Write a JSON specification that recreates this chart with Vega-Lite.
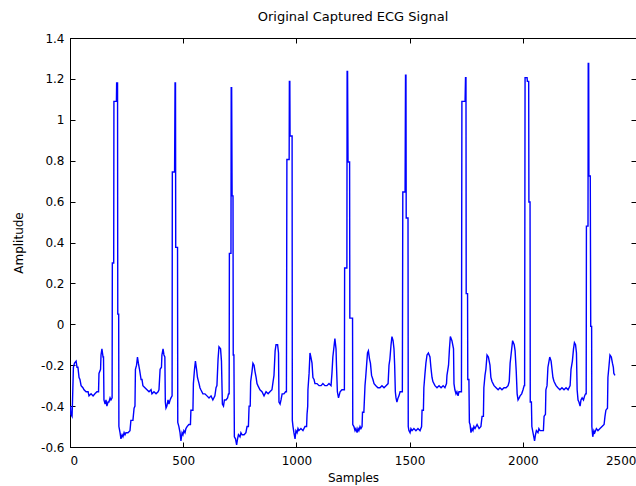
{
 "$schema": "https://vega.github.io/schema/vega-lite/v6.json",
 "width": 566,
 "height": 409,
 "autosize": {"type": "none"},
 "padding": {"left": 70, "top": 38, "right": 0, "bottom": 39},
 "background": "white",
 "title": {"text": "Original Captured ECG Signal", "font": "DejaVu Sans", "fontSize": 13, "fontWeight": "normal", "color": "black", "offset": 8},
 "config": {
  "view": {"stroke": "black", "strokeWidth": 1},
  "axis": {"domainColor": "black", "tickColor": "black", "labelColor": "black", "titleColor": "black", "labelFont": "DejaVu Sans", "titleFont": "DejaVu Sans", "labelFontSize": 12, "titleFontSize": 12, "titleFontWeight": "normal", "grid": false, "tickSize": -5}
 },
 "datasets": {"ecg": [
{"sample":2,"amplitude":-0.40},{"sample":4,"amplitude":-0.44},{"sample":9,"amplitude":-0.45},{"sample":11,"amplitude":-0.38},{"sample":15,"amplitude":-0.21},{"sample":20,"amplitude":-0.19},{"sample":27,"amplitude":-0.18},{"sample":31,"amplitude":-0.21},{"sample":35,"amplitude":-0.21},{"sample":40,"amplitude":-0.26},{"sample":44,"amplitude":-0.27},{"sample":49,"amplitude":-0.30},{"sample":57,"amplitude":-0.31},{"sample":62,"amplitude":-0.32},{"sample":71,"amplitude":-0.33},{"sample":80,"amplitude":-0.33},{"sample":84,"amplitude":-0.35},{"sample":93,"amplitude":-0.34},{"sample":102,"amplitude":-0.35},{"sample":110,"amplitude":-0.34},{"sample":119,"amplitude":-0.33},{"sample":126,"amplitude":-0.33},{"sample":128,"amplitude":-0.24},{"sample":135,"amplitude":-0.22},{"sample":137,"amplitude":-0.15},{"sample":141,"amplitude":-0.12},{"sample":146,"amplitude":-0.16},{"sample":148,"amplitude":-0.16},{"sample":150,"amplitude":-0.37},{"sample":155,"amplitude":-0.39},{"sample":159,"amplitude":-0.37},{"sample":163,"amplitude":-0.40},{"sample":168,"amplitude":-0.38},{"sample":172,"amplitude":-0.38},{"sample":177,"amplitude":-0.36},{"sample":181,"amplitude":-0.37},{"sample":186,"amplitude":-0.36},{"sample":187,"amplitude":0.30},{"sample":193,"amplitude":0.30},{"sample":194,"amplitude":1.09},{"sample":205,"amplitude":1.09},{"sample":206,"amplitude":1.18},{"sample":210,"amplitude":1.18},{"sample":211,"amplitude":0.05},{"sample":215,"amplitude":0.05},{"sample":216,"amplitude":-0.50},{"sample":221,"amplitude":-0.53},{"sample":225,"amplitude":-0.56},{"sample":230,"amplitude":-0.54},{"sample":234,"amplitude":-0.55},{"sample":239,"amplitude":-0.53},{"sample":243,"amplitude":-0.54},{"sample":247,"amplitude":-0.53},{"sample":256,"amplitude":-0.53},{"sample":265,"amplitude":-0.52},{"sample":269,"amplitude":-0.47},{"sample":278,"amplitude":-0.47},{"sample":283,"amplitude":-0.41},{"sample":287,"amplitude":-0.40},{"sample":289,"amplitude":-0.22},{"sample":294,"amplitude":-0.20},{"sample":298,"amplitude":-0.16},{"sample":302,"amplitude":-0.19},{"sample":307,"amplitude":-0.22},{"sample":314,"amplitude":-0.27},{"sample":318,"amplitude":-0.27},{"sample":322,"amplitude":-0.30},{"sample":331,"amplitude":-0.31},{"sample":340,"amplitude":-0.32},{"sample":349,"amplitude":-0.33},{"sample":358,"amplitude":-0.32},{"sample":362,"amplitude":-0.34},{"sample":371,"amplitude":-0.33},{"sample":380,"amplitude":-0.34},{"sample":389,"amplitude":-0.33},{"sample":393,"amplitude":-0.32},{"sample":398,"amplitude":-0.22},{"sample":404,"amplitude":-0.21},{"sample":406,"amplitude":-0.15},{"sample":411,"amplitude":-0.12},{"sample":415,"amplitude":-0.15},{"sample":419,"amplitude":-0.16},{"sample":421,"amplitude":-0.38},{"sample":424,"amplitude":-0.41},{"sample":428,"amplitude":-0.40},{"sample":433,"amplitude":-0.37},{"sample":437,"amplitude":-0.39},{"sample":442,"amplitude":-0.37},{"sample":446,"amplitude":-0.36},{"sample":451,"amplitude":-0.35},{"sample":452,"amplitude":0.745},{"sample":462,"amplitude":0.745},{"sample":464,"amplitude":1.18},{"sample":466,"amplitude":1.18},{"sample":467,"amplitude":0.376},{"sample":475,"amplitude":0.376},{"sample":476,"amplitude":-0.48},{"sample":481,"amplitude":-0.50},{"sample":486,"amplitude":-0.53},{"sample":490,"amplitude":-0.57},{"sample":495,"amplitude":-0.53},{"sample":499,"amplitude":-0.54},{"sample":503,"amplitude":-0.52},{"sample":508,"amplitude":-0.53},{"sample":512,"amplitude":-0.51},{"sample":517,"amplitude":-0.50},{"sample":525,"amplitude":-0.49},{"sample":532,"amplitude":-0.49},{"sample":534,"amplitude":-0.42},{"sample":543,"amplitude":-0.42},{"sample":545,"amplitude":-0.29},{"sample":550,"amplitude":-0.22},{"sample":554,"amplitude":-0.18},{"sample":559,"amplitude":-0.22},{"sample":563,"amplitude":-0.26},{"sample":570,"amplitude":-0.29},{"sample":574,"amplitude":-0.31},{"sample":578,"amplitude":-0.32},{"sample":587,"amplitude":-0.34},{"sample":596,"amplitude":-0.34},{"sample":605,"amplitude":-0.35},{"sample":614,"amplitude":-0.36},{"sample":623,"amplitude":-0.35},{"sample":631,"amplitude":-0.37},{"sample":640,"amplitude":-0.35},{"sample":645,"amplitude":-0.31},{"sample":649,"amplitude":-0.30},{"sample":654,"amplitude":-0.17},{"sample":658,"amplitude":-0.11},{"sample":665,"amplitude":-0.12},{"sample":669,"amplitude":-0.18},{"sample":673,"amplitude":-0.39},{"sample":678,"amplitude":-0.40},{"sample":682,"amplitude":-0.37},{"sample":689,"amplitude":-0.37},{"sample":696,"amplitude":-0.36},{"sample":700,"amplitude":-0.34},{"sample":703,"amplitude":-0.34},{"sample":704,"amplitude":0.347},{"sample":711,"amplitude":0.347},{"sample":712,"amplitude":1.157},{"sample":714,"amplitude":1.157},{"sample":716,"amplitude":0.628},{"sample":720,"amplitude":0.628},{"sample":721,"amplitude":-0.15},{"sample":724,"amplitude":-0.15},{"sample":726,"amplitude":-0.55},{"sample":731,"amplitude":-0.56},{"sample":736,"amplitude":-0.59},{"sample":740,"amplitude":-0.56},{"sample":744,"amplitude":-0.54},{"sample":751,"amplitude":-0.55},{"sample":755,"amplitude":-0.53},{"sample":760,"amplitude":-0.54},{"sample":769,"amplitude":-0.54},{"sample":777,"amplitude":-0.53},{"sample":782,"amplitude":-0.50},{"sample":788,"amplitude":-0.50},{"sample":791,"amplitude":-0.40},{"sample":796,"amplitude":-0.40},{"sample":798,"amplitude":-0.28},{"sample":804,"amplitude":-0.23},{"sample":808,"amplitude":-0.19},{"sample":813,"amplitude":-0.20},{"sample":817,"amplitude":-0.23},{"sample":822,"amplitude":-0.26},{"sample":826,"amplitude":-0.29},{"sample":830,"amplitude":-0.30},{"sample":839,"amplitude":-0.32},{"sample":848,"amplitude":-0.33},{"sample":857,"amplitude":-0.35},{"sample":866,"amplitude":-0.33},{"sample":875,"amplitude":-0.34},{"sample":883,"amplitude":-0.33},{"sample":892,"amplitude":-0.32},{"sample":897,"amplitude":-0.28},{"sample":901,"amplitude":-0.25},{"sample":906,"amplitude":-0.13},{"sample":910,"amplitude":-0.10},{"sample":917,"amplitude":-0.10},{"sample":921,"amplitude":-0.14},{"sample":923,"amplitude":-0.38},{"sample":928,"amplitude":-0.39},{"sample":932,"amplitude":-0.37},{"sample":937,"amplitude":-0.34},{"sample":945,"amplitude":-0.34},{"sample":952,"amplitude":-0.33},{"sample":956,"amplitude":-0.33},{"sample":958,"amplitude":0.806},{"sample":968,"amplitude":0.806},{"sample":969,"amplitude":1.188},{"sample":971,"amplitude":1.188},{"sample":972,"amplitude":0.921},{"sample":981,"amplitude":0.921},{"sample":982,"amplitude":-0.47},{"sample":985,"amplitude":-0.50},{"sample":989,"amplitude":-0.53},{"sample":994,"amplitude":-0.56},{"sample":998,"amplitude":-0.52},{"sample":1003,"amplitude":-0.53},{"sample":1007,"amplitude":-0.51},{"sample":1011,"amplitude":-0.52},{"sample":1020,"amplitude":-0.51},{"sample":1029,"amplitude":-0.52},{"sample":1038,"amplitude":-0.50},{"sample":1045,"amplitude":-0.50},{"sample":1047,"amplitude":-0.44},{"sample":1050,"amplitude":-0.40},{"sample":1051,"amplitude":-0.32},{"sample":1056,"amplitude":-0.24},{"sample":1060,"amplitude":-0.14},{"sample":1064,"amplitude":-0.16},{"sample":1069,"amplitude":-0.19},{"sample":1073,"amplitude":-0.26},{"sample":1078,"amplitude":-0.27},{"sample":1082,"amplitude":-0.29},{"sample":1091,"amplitude":-0.29},{"sample":1100,"amplitude":-0.30},{"sample":1109,"amplitude":-0.30},{"sample":1117,"amplitude":-0.29},{"sample":1126,"amplitude":-0.30},{"sample":1135,"amplitude":-0.30},{"sample":1144,"amplitude":-0.29},{"sample":1153,"amplitude":-0.30},{"sample":1157,"amplitude":-0.24},{"sample":1161,"amplitude":-0.16},{"sample":1166,"amplitude":-0.11},{"sample":1170,"amplitude":-0.07},{"sample":1175,"amplitude":-0.12},{"sample":1177,"amplitude":-0.20},{"sample":1181,"amplitude":-0.33},{"sample":1186,"amplitude":-0.36},{"sample":1193,"amplitude":-0.33},{"sample":1201,"amplitude":-0.32},{"sample":1210,"amplitude":-0.32},{"sample":1212,"amplitude":-0.32},{"sample":1213,"amplitude":0.275},{"sample":1223,"amplitude":0.275},{"sample":1224,"amplitude":1.237},{"sample":1226,"amplitude":1.237},{"sample":1228,"amplitude":0.794},{"sample":1235,"amplitude":0.794},{"sample":1236,"amplitude":0.03},{"sample":1248,"amplitude":0.03},{"sample":1249,"amplitude":-0.49},{"sample":1254,"amplitude":-0.50},{"sample":1259,"amplitude":-0.52},{"sample":1263,"amplitude":-0.51},{"sample":1268,"amplitude":-0.53},{"sample":1272,"amplitude":-0.51},{"sample":1276,"amplitude":-0.52},{"sample":1281,"amplitude":-0.50},{"sample":1285,"amplitude":-0.51},{"sample":1290,"amplitude":-0.50},{"sample":1292,"amplitude":-0.43},{"sample":1298,"amplitude":-0.43},{"sample":1303,"amplitude":-0.30},{"sample":1306,"amplitude":-0.26},{"sample":1310,"amplitude":-0.20},{"sample":1314,"amplitude":-0.14},{"sample":1318,"amplitude":-0.13},{"sample":1323,"amplitude":-0.17},{"sample":1327,"amplitude":-0.19},{"sample":1332,"amplitude":-0.25},{"sample":1338,"amplitude":-0.27},{"sample":1343,"amplitude":-0.29},{"sample":1351,"amplitude":-0.30},{"sample":1360,"amplitude":-0.31},{"sample":1369,"amplitude":-0.31},{"sample":1378,"amplitude":-0.30},{"sample":1387,"amplitude":-0.31},{"sample":1396,"amplitude":-0.30},{"sample":1405,"amplitude":-0.29},{"sample":1409,"amplitude":-0.20},{"sample":1413,"amplitude":-0.17},{"sample":1418,"amplitude":-0.10},{"sample":1422,"amplitude":-0.06},{"sample":1427,"amplitude":-0.08},{"sample":1431,"amplitude":-0.12},{"sample":1434,"amplitude":-0.20},{"sample":1437,"amplitude":-0.33},{"sample":1440,"amplitude":-0.36},{"sample":1444,"amplitude":-0.38},{"sample":1449,"amplitude":-0.36},{"sample":1453,"amplitude":-0.35},{"sample":1458,"amplitude":-0.33},{"sample":1464,"amplitude":-0.33},{"sample":1468,"amplitude":-0.33},{"sample":1470,"amplitude":0.647},{"sample":1480,"amplitude":0.647},{"sample":1482,"amplitude":1.218},{"sample":1484,"amplitude":1.218},{"sample":1485,"amplitude":0.52},{"sample":1493,"amplitude":0.52},{"sample":1494,"amplitude":-0.50},{"sample":1497,"amplitude":-0.52},{"sample":1502,"amplitude":-0.53},{"sample":1506,"amplitude":-0.51},{"sample":1511,"amplitude":-0.52},{"sample":1519,"amplitude":-0.51},{"sample":1528,"amplitude":-0.52},{"sample":1537,"amplitude":-0.51},{"sample":1546,"amplitude":-0.52},{"sample":1553,"amplitude":-0.50},{"sample":1555,"amplitude":-0.42},{"sample":1561,"amplitude":-0.42},{"sample":1563,"amplitude":-0.31},{"sample":1568,"amplitude":-0.24},{"sample":1572,"amplitude":-0.19},{"sample":1577,"amplitude":-0.15},{"sample":1583,"amplitude":-0.14},{"sample":1590,"amplitude":-0.16},{"sample":1594,"amplitude":-0.21},{"sample":1599,"amplitude":-0.26},{"sample":1603,"amplitude":-0.28},{"sample":1612,"amplitude":-0.30},{"sample":1621,"amplitude":-0.31},{"sample":1630,"amplitude":-0.30},{"sample":1639,"amplitude":-0.31},{"sample":1648,"amplitude":-0.30},{"sample":1656,"amplitude":-0.31},{"sample":1663,"amplitude":-0.29},{"sample":1665,"amplitude":-0.25},{"sample":1672,"amplitude":-0.20},{"sample":1676,"amplitude":-0.12},{"sample":1680,"amplitude":-0.06},{"sample":1687,"amplitude":-0.08},{"sample":1694,"amplitude":-0.12},{"sample":1696,"amplitude":-0.29},{"sample":1700,"amplitude":-0.32},{"sample":1705,"amplitude":-0.34},{"sample":1709,"amplitude":-0.33},{"sample":1714,"amplitude":-0.35},{"sample":1718,"amplitude":-0.33},{"sample":1725,"amplitude":-0.33},{"sample":1729,"amplitude":-0.33},{"sample":1731,"amplitude":1.09},{"sample":1745,"amplitude":1.09},{"sample":1747,"amplitude":1.206},{"sample":1749,"amplitude":1.206},{"sample":1750,"amplitude":0.15},{"sample":1756,"amplitude":0.15},{"sample":1757,"amplitude":-0.27},{"sample":1762,"amplitude":-0.27},{"sample":1764,"amplitude":-0.48},{"sample":1767,"amplitude":-0.49},{"sample":1771,"amplitude":-0.53},{"sample":1776,"amplitude":-0.51},{"sample":1780,"amplitude":-0.52},{"sample":1784,"amplitude":-0.50},{"sample":1789,"amplitude":-0.51},{"sample":1798,"amplitude":-0.49},{"sample":1807,"amplitude":-0.51},{"sample":1815,"amplitude":-0.50},{"sample":1820,"amplitude":-0.45},{"sample":1826,"amplitude":-0.45},{"sample":1828,"amplitude":-0.31},{"sample":1833,"amplitude":-0.25},{"sample":1837,"amplitude":-0.22},{"sample":1842,"amplitude":-0.15},{"sample":1848,"amplitude":-0.16},{"sample":1855,"amplitude":-0.20},{"sample":1859,"amplitude":-0.26},{"sample":1864,"amplitude":-0.28},{"sample":1873,"amplitude":-0.30},{"sample":1882,"amplitude":-0.31},{"sample":1891,"amplitude":-0.32},{"sample":1899,"amplitude":-0.31},{"sample":1908,"amplitude":-0.32},{"sample":1917,"amplitude":-0.31},{"sample":1926,"amplitude":-0.31},{"sample":1935,"amplitude":-0.30},{"sample":1940,"amplitude":-0.28},{"sample":1944,"amplitude":-0.19},{"sample":1948,"amplitude":-0.15},{"sample":1955,"amplitude":-0.08},{"sample":1962,"amplitude":-0.10},{"sample":1966,"amplitude":-0.13},{"sample":1971,"amplitude":-0.23},{"sample":1975,"amplitude":-0.34},{"sample":1979,"amplitude":-0.37},{"sample":1984,"amplitude":-0.36},{"sample":1988,"amplitude":-0.35},{"sample":1995,"amplitude":-0.34},{"sample":2001,"amplitude":-0.32},{"sample":2006,"amplitude":-0.30},{"sample":2008,"amplitude":-0.30},{"sample":2010,"amplitude":1.206},{"sample":2019,"amplitude":1.206},{"sample":2020,"amplitude":1.188},{"sample":2026,"amplitude":1.188},{"sample":2027,"amplitude":0.598},{"sample":2032,"amplitude":0.598},{"sample":2033,"amplitude":-0.38},{"sample":2038,"amplitude":-0.38},{"sample":2040,"amplitude":-0.50},{"sample":2045,"amplitude":-0.53},{"sample":2052,"amplitude":-0.57},{"sample":2056,"amplitude":-0.54},{"sample":2060,"amplitude":-0.52},{"sample":2067,"amplitude":-0.53},{"sample":2071,"amplitude":-0.51},{"sample":2076,"amplitude":-0.52},{"sample":2085,"amplitude":-0.52},{"sample":2091,"amplitude":-0.52},{"sample":2094,"amplitude":-0.45},{"sample":2100,"amplitude":-0.44},{"sample":2102,"amplitude":-0.32},{"sample":2107,"amplitude":-0.30},{"sample":2111,"amplitude":-0.21},{"sample":2119,"amplitude":-0.16},{"sample":2125,"amplitude":-0.18},{"sample":2129,"amplitude":-0.22},{"sample":2133,"amplitude":-0.26},{"sample":2138,"amplitude":-0.28},{"sample":2147,"amplitude":-0.30},{"sample":2155,"amplitude":-0.31},{"sample":2164,"amplitude":-0.32},{"sample":2173,"amplitude":-0.31},{"sample":2182,"amplitude":-0.32},{"sample":2191,"amplitude":-0.31},{"sample":2200,"amplitude":-0.32},{"sample":2209,"amplitude":-0.30},{"sample":2213,"amplitude":-0.22},{"sample":2219,"amplitude":-0.18},{"sample":2224,"amplitude":-0.12},{"sample":2228,"amplitude":-0.09},{"sample":2233,"amplitude":-0.10},{"sample":2237,"amplitude":-0.14},{"sample":2240,"amplitude":-0.32},{"sample":2244,"amplitude":-0.37},{"sample":2248,"amplitude":-0.38},{"sample":2253,"amplitude":-0.40},{"sample":2257,"amplitude":-0.37},{"sample":2262,"amplitude":-0.36},{"sample":2268,"amplitude":-0.37},{"sample":2273,"amplitude":-0.35},{"sample":2277,"amplitude":-0.34},{"sample":2280,"amplitude":-0.34},{"sample":2281,"amplitude":0.48},{"sample":2288,"amplitude":0.48},{"sample":2289,"amplitude":1.275},{"sample":2291,"amplitude":1.275},{"sample":2292,"amplitude":0.725},{"sample":2298,"amplitude":0.725},{"sample":2300,"amplitude":-0.01},{"sample":2304,"amplitude":-0.01},{"sample":2305,"amplitude":-0.50},{"sample":2309,"amplitude":-0.55},{"sample":2314,"amplitude":-0.52},{"sample":2318,"amplitude":-0.53},{"sample":2325,"amplitude":-0.51},{"sample":2332,"amplitude":-0.52},{"sample":2341,"amplitude":-0.51},{"sample":2350,"amplitude":-0.50},{"sample":2359,"amplitude":-0.49},{"sample":2363,"amplitude":-0.45},{"sample":2367,"amplitude":-0.42},{"sample":2374,"amplitude":-0.41},{"sample":2376,"amplitude":-0.26},{"sample":2381,"amplitude":-0.20},{"sample":2385,"amplitude":-0.15},{"sample":2391,"amplitude":-0.16},{"sample":2396,"amplitude":-0.19},{"sample":2400,"amplitude":-0.21},{"sample":2402,"amplitude":-0.24},{"sample":2407,"amplitude":-0.25}
 ]},
 "data": {"name": "ecg"},
 "layer": [
  {
   "mark": {"type": "line", "color": "#0000ff", "strokeWidth": 1.4, "clip": true},
   "encoding": {
    "x": {"field": "sample", "type": "quantitative", "scale": {"domain": [0, 2500], "nice": false, "zero": false},
          "axis": {"title": "Samples", "values": [0, 500, 1000, 1500, 2000, 2500], "labelExpr": "'' + datum.value", "labelPadding": 13, "titlePadding": 6}},
    "y": {"field": "amplitude", "type": "quantitative", "scale": {"domain": [-0.6, 1.4], "nice": false, "zero": false},
          "axis": {"title": "Amplitude", "values": [-0.6, -0.4, -0.2, 0, 0.2, 0.4, 0.6, 0.8, 1, 1.2, 1.4], "labelExpr": "'' + datum.value", "labelPadding": 11, "titlePadding": 15}}
   }
  },
  {
   "mark": {"type": "line", "opacity": 0},
   "encoding": {
    "x": {"field": "sample", "type": "quantitative", "axis": {"orient": "top", "title": null, "labels": false, "values": [0, 500, 1000, 1500, 2000, 2500]}},
    "y": {"field": "amplitude", "type": "quantitative", "axis": {"orient": "right", "title": null, "labels": false, "values": [-0.6, -0.4, -0.2, 0, 0.2, 0.4, 0.6, 0.8, 1, 1.2, 1.4]}}
   }
  }
 ],
 "resolve": {"axis": {"x": "independent", "y": "independent"}}
}
